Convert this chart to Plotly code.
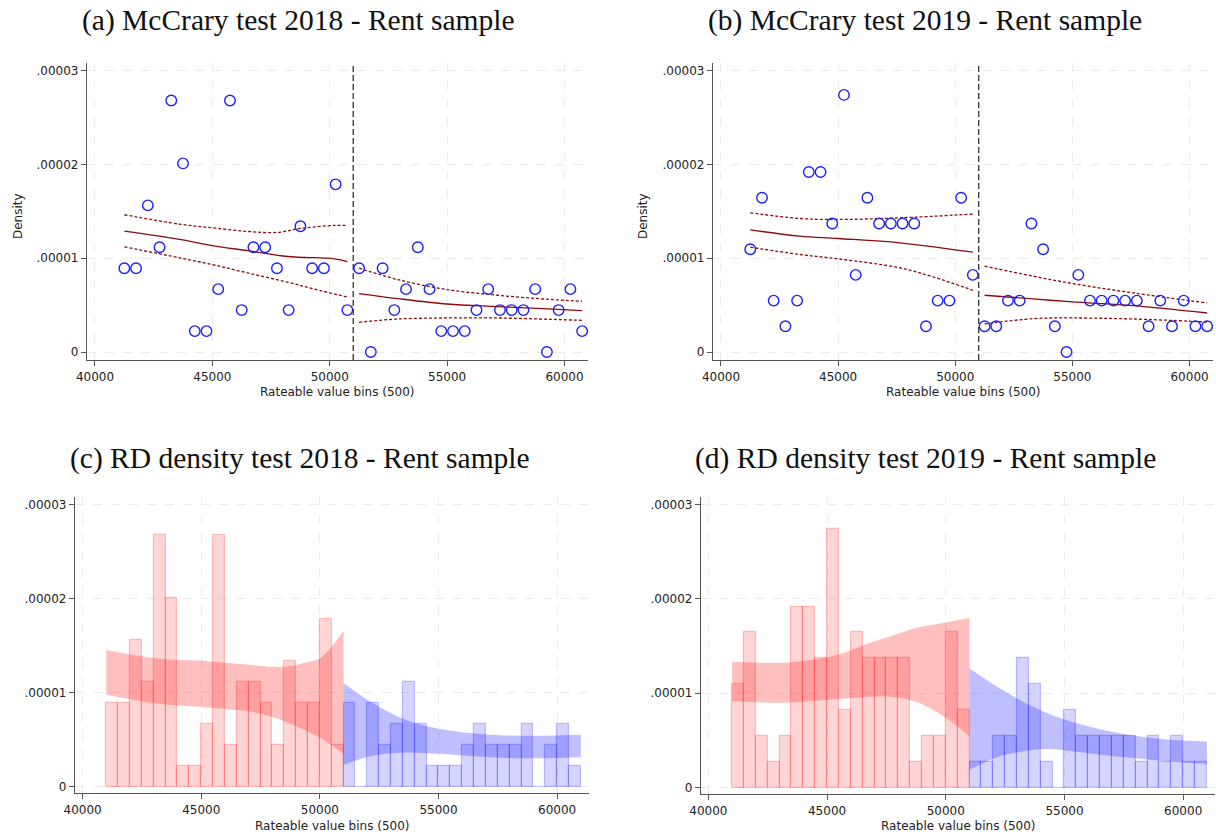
import plotly.graph_objects as go

W, H = 1216, 834

# ---------------- data ----------------
bin_mid = [41250, 41750, 42250, 42750, 43250, 43750, 44250, 44750, 45250, 45750,
           46250, 46750, 47250, 47750, 48250, 48750, 49250, 49750, 50250, 50750,
           51250, 51750, 52250, 52750, 53250, 53750, 54250, 54750, 55250, 55750,
           56250, 56750, 57250, 57750, 58250, 58750, 59250, 59750, 60250, 60750]
cutoff = 51000

# bin densities (x 1e-6)
dens_2018 = [8.93, 8.93, 15.63, 11.17, 26.8, 20.1, 2.23, 2.23, 6.70, 26.8,
             4.47, 11.17, 11.17, 8.93, 4.47, 13.4, 8.93, 8.93, 17.87, 4.47,
             8.93, 0, 8.93, 4.47, 6.70, 11.17, 6.70, 2.23, 2.23, 2.23,
             4.47, 6.70, 4.47, 4.47, 4.47, 6.70, 0, 4.47, 6.70, 2.23]
dens_2019 = [10.96, 16.44, 5.48, 2.74, 5.48, 19.18, 19.18, 13.7, 27.4, 8.22,
             16.44, 13.7, 13.7, 13.7, 13.7, 2.74, 5.48, 5.48, 16.44, 8.22,
             2.74, 2.74, 5.48, 5.48, 13.7, 10.96, 2.74, 0, 8.22, 5.48,
             5.48, 5.48, 5.48, 5.48, 2.74, 5.48, 2.74, 5.48, 2.74, 2.74]

# McCrary fits 2018 (x 1e-5)
mc18_lx = [41250, 43600, 45000, 46500, 48200, 50200, 50750]
mc18_lfit = [1.288, 1.20, 1.135, 1.08, 1.018, 0.993, 0.964]
mc18_ux = [41250, 43600, 45000, 46500, 47750, 48750, 50200, 50750]
mc18_lhi = [1.463, 1.363, 1.324, 1.285, 1.274, 1.317, 1.349, 1.349]
mc18_lox = [41250, 43600, 45000, 46500, 48200, 49300, 50750]
mc18_llo = [1.121, 1.004, 0.932, 0.843, 0.744, 0.673, 0.587]
mc18_rx = [51250, 52900, 55000, 57150, 59300, 60750]
mc18_rfit = [0.623, 0.569, 0.512, 0.484, 0.459, 0.441]
mc18_rhi = [0.893, 0.772, 0.665, 0.605, 0.562, 0.541]
mc18_rlo = [0.317, 0.352, 0.363, 0.363, 0.349, 0.338]

# McCrary fits 2019 (x 1e-5)
mc19_lx = [41250, 43370, 45000, 47640, 50750]
mc19_lfit = [1.302, 1.235, 1.21, 1.164, 1.064]
mc19_lhi = [1.484, 1.423, 1.413, 1.43, 1.47]
mc19_lox = [41250, 43370, 45000, 47640, 49060, 50750]
mc19_llo = [1.117, 1.039, 0.993, 0.897, 0.80, 0.658]
mc19_rx = [51250, 53330, 55000, 57600, 60750]
mc19_rfit = [0.605, 0.566, 0.534, 0.495, 0.416]
mc19_rhi = [0.915, 0.808, 0.73, 0.63, 0.523]
mc19_rlo = [0.299, 0.356, 0.363, 0.352, 0.32]

# RD density CI bands 2018 (x 1e-5)
rd18_lx_hi = [41000, 43130, 45000, 47350, 48000, 48750, 49400, 50000, 51000]
rd18_l_hi = [1.452, 1.363, 1.338, 1.288, 1.274, 1.281, 1.32, 1.363, 1.658]
rd18_lx_lo = [41000, 43130, 45000, 46640, 47630, 48750, 50000, 51000]
rd18_l_lo = [0.979, 0.883, 0.847, 0.811, 0.769, 0.669, 0.52, 0.349]
rd18_rx = [51000, 52260, 53670, 55000, 57180, 58580, 61000]
rd18_r_hi = [1.103, 0.883, 0.705, 0.616, 0.552, 0.541, 0.552]
rd18_r_lo = [0.231, 0.331, 0.363, 0.349, 0.313, 0.302, 0.313]

# RD density CI bands 2019 (x 1e-5)
rd19_lx_hi = [41000, 43160, 44280, 45550, 46670, 47650, 48780, 50000, 51000]
rd19_l_hi = [1.335, 1.324, 1.352, 1.416, 1.523, 1.601, 1.694, 1.751, 1.797]
rd19_lx_lo = [41000, 43160, 45270, 46670, 47650, 48780, 50000, 51000]
rd19_l_lo = [0.918, 0.90, 0.936, 0.961, 0.964, 0.907, 0.74, 0.544]
rd19_rx_hi = [51000, 52290, 53690, 55000, 56500, 57900, 59300, 61000]
rd19_r_hi = [1.263, 1.05, 0.854, 0.722, 0.619, 0.552, 0.509, 0.488]
rd19_rx_lo = [51000, 52290, 53690, 54400, 55000, 56500, 57900, 59300, 61000]
rd19_r_lo = [0.189, 0.331, 0.402, 0.409, 0.395, 0.349, 0.313, 0.278, 0.249]

titles = ["(a) McCrary test 2018 - Rent sample", "(b) McCrary test 2019 - Rent sample",
          "(c) RD density test 2018 - Rent sample", "(d) RD density test 2019 - Rent sample"]
xtitle = "Rateable value bins (500)"
ytitle = "Density"
xticks = [40000, 45000, 50000, 55000, 60000]
yticks = [0, 0.00001, 0.00002, 0.00003]
yticktext = ["0", ".00001", ".00002", ".00003"]

# ---------------- helpers ----------------
def e6(v): return [a * 1e-6 for a in v]
def e5(v): return [a * 1e-5 for a in v]

MAROON = "rgb(140,12,12)"
BLUE_M = "rgb(30,30,255)"
RED_BAND = "rgba(255,0,0,0.25)"
BLUE_BAND = "rgba(0,0,255,0.25)"
RED_BAR = "rgba(255,0,0,0.17)"
BLUE_BAR = "rgba(0,0,255,0.17)"
RED_BAR_L = "rgba(255,0,0,0.22)"
BLUE_BAR_L = "rgba(0,0,255,0.22)"

fig = go.Figure()

panels = {
    1: dict(px=(87, 588), py=(63, 360), xr=[39660, 61000], yr=[-0.85e-6, 3.08e-5]),
    2: dict(px=(713, 1213), py=(63, 360), xr=[39660, 61000], yr=[-0.85e-6, 3.08e-5]),
    3: dict(px=(75, 589), py=(497, 793), xr=[39680, 61345], yr=[-0.68e-6, 3.08e-5]),
    4: dict(px=(701, 1215), py=(497, 794), xr=[39690, 61340], yr=[-0.68e-6, 3.08e-5]),
}

def axn(i, a):
    return a if i == 1 else f"{a}{i}"

def line(i, x, y, dash="solid"):
    fig.add_trace(go.Scatter(x=x, y=y, mode="lines", xaxis=axn(i, "x"), yaxis=axn(i, "y"),
                             line=dict(color=MAROON, width=1.3, dash=dash, shape="spline", smoothing=1.0),
                             showlegend=False, hoverinfo="skip"))

def band(i, xl, yl, xh, yh, color):
    fig.add_trace(go.Scatter(x=xl, y=yl, mode="lines", xaxis=axn(i, "x"), yaxis=axn(i, "y"),
                             line=dict(width=0, color=color, shape="spline", smoothing=1.0),
                             showlegend=False, hoverinfo="skip"))
    fig.add_trace(go.Scatter(x=xh, y=yh, mode="lines", fill="tonexty", fillcolor=color,
                             xaxis=axn(i, "x"), yaxis=axn(i, "y"),
                             line=dict(width=0, color=color, shape="spline", smoothing=1.0),
                             showlegend=False, hoverinfo="skip"))

def bars(i, xs, ys, fill, edge):
    fig.add_trace(go.Bar(x=xs, y=ys, width=500, xaxis=axn(i, "x"), yaxis=axn(i, "y"),
                         marker=dict(color=fill, line=dict(color=edge, width=1.2)),
                         showlegend=False, hoverinfo="skip"))

# ----- panel (a) / (b): McCrary -----
for i, dens, fits in [
    (1, dens_2018, (mc18_lx, mc18_lfit, mc18_ux, mc18_lhi, mc18_lox, mc18_llo,
                    mc18_rx, mc18_rfit, mc18_rx, mc18_rhi, mc18_rx, mc18_rlo)),
    (2, dens_2019, (mc19_lx, mc19_lfit, mc19_lx, mc19_lhi, mc19_lox, mc19_llo,
                    mc19_rx, mc19_rfit, mc19_rx, mc19_rhi, mc19_rx, mc19_rlo)),
]:
    (lx, lf, ux, lh, lox, ll, rx, rf, rxh, rh, rxl, rl) = fits
    line(i, lx, e5(lf))
    line(i, ux, e5(lh), "3px,2px")
    line(i, lox, e5(ll), "3px,2px")
    line(i, rx, e5(rf))
    line(i, rxh, e5(rh), "3px,2px")
    line(i, rxl, e5(rl), "3px,2px")
    fig.add_trace(go.Scatter(x=bin_mid, y=e6(dens), mode="markers", xaxis=axn(i, "x"), yaxis=axn(i, "y"),
                             marker=dict(symbol="circle-open", size=10.5, color=BLUE_M, line=dict(width=1.4, color=BLUE_M)),
                             showlegend=False, hoverinfo="skip"))
    fig.add_shape(type="line", xref=axn(i, "x"), yref=axn(i, "y") + " domain",
                  x0=cutoff, x1=cutoff, y0=0, y1=1,
                  line=dict(color="#333333", width=1.3, dash="6px,3px"))

# ----- panel (c) / (d): RD density -----
for i, dens, bl in [
    (3, dens_2018, (rd18_lx_lo, rd18_l_lo, rd18_lx_hi, rd18_l_hi, rd18_rx, rd18_r_lo, rd18_rx, rd18_r_hi)),
    (4, dens_2019, (rd19_lx_lo, rd19_l_lo, rd19_lx_hi, rd19_l_hi, rd19_rx_lo, rd19_r_lo, rd19_rx_hi, rd19_r_hi)),
]:
    lxl, lyl, lxh, lyh, rxl, ryl, rxh, ryh = bl
    left_x = [x for x in bin_mid if x < cutoff]
    left_y = [d for x, d in zip(bin_mid, e6(dens)) if x < cutoff]
    right_x = [x for x in bin_mid if x > cutoff]
    right_y = [d for x, d in zip(bin_mid, e6(dens)) if x > cutoff]
    bars(i, left_x, left_y, RED_BAR, RED_BAR_L)
    bars(i, right_x, right_y, BLUE_BAR, BLUE_BAR_L)
    band(i, lxl, e5(lyl), lxh, e5(lyh), RED_BAND)
    band(i, rxl, e5(ryl), rxh, e5(ryh), BLUE_BAND)

# ----- axes -----
layout = {}
for i, p in panels.items():
    x0, x1 = p["px"]
    yt, yb = p["py"]
    common = dict(showline=True, linecolor="#555555", linewidth=1.3, automargin=False,
                  ticks="outside", ticklen=5, tickcolor="#555555", tickwidth=1.2,
                  showgrid=True, gridcolor="#ebebeb", griddash="dash", gridwidth=1,
                  zeroline=False, tickfont=dict(family="DejaVu Sans", size=12, color="#222"))
    xa = dict(domain=[x0 / W, x1 / W], range=p["xr"], anchor=axn(i, "y"),
              tickvals=xticks, ticktext=[str(t) for t in xticks], **common)
    ya = dict(domain=[1 - yb / H, 1 - yt / H], range=p["yr"], anchor=axn(i, "x"),
              tickvals=yticks, ticktext=yticktext, **common)
    layout["xaxis" if i == 1 else f"xaxis{i}"] = xa
    layout["yaxis" if i == 1 else f"yaxis{i}"] = ya

annotations = []
title_pos = {1: (298, 21), 2: (925, 21), 3: (300, 458), 4: (925, 458)}
for i, t in enumerate(titles, start=1):
    cx, cy = title_pos[i]
    annotations.append(dict(text=t, x=cx / W, y=1 - cy / H, xref="paper", yref="paper",
                            showarrow=False, xanchor="center", yanchor="middle",
                            font=dict(family="Liberation Serif", size=29.5, color="#111")))
xt_pos = {1: (337, 392), 2: (963, 392), 3: (332, 826), 4: (958, 826)}
for i, (cx, cy) in xt_pos.items():
    annotations.append(dict(text=xtitle, x=cx / W, y=1 - cy / H, xref="paper", yref="paper",
                            showarrow=False, xanchor="center", yanchor="middle",
                            font=dict(family="DejaVu Sans", size=12, color="#222")))
for cx in (18, 643):
    annotations.append(dict(text=ytitle, x=cx / W, y=1 - 216 / H, xref="paper", yref="paper",
                            showarrow=False, xanchor="center", yanchor="middle", textangle=-90,
                            font=dict(family="DejaVu Sans", size=12, color="#222")))

fig.update_layout(template="none", width=W, height=H, margin=dict(l=0, r=0, t=0, b=0, pad=0),
                  autosize=False, paper_bgcolor="white", plot_bgcolor="white", barmode="overlay",
                  bargap=0, annotations=annotations, **layout)

fig.write_html("out.html")
